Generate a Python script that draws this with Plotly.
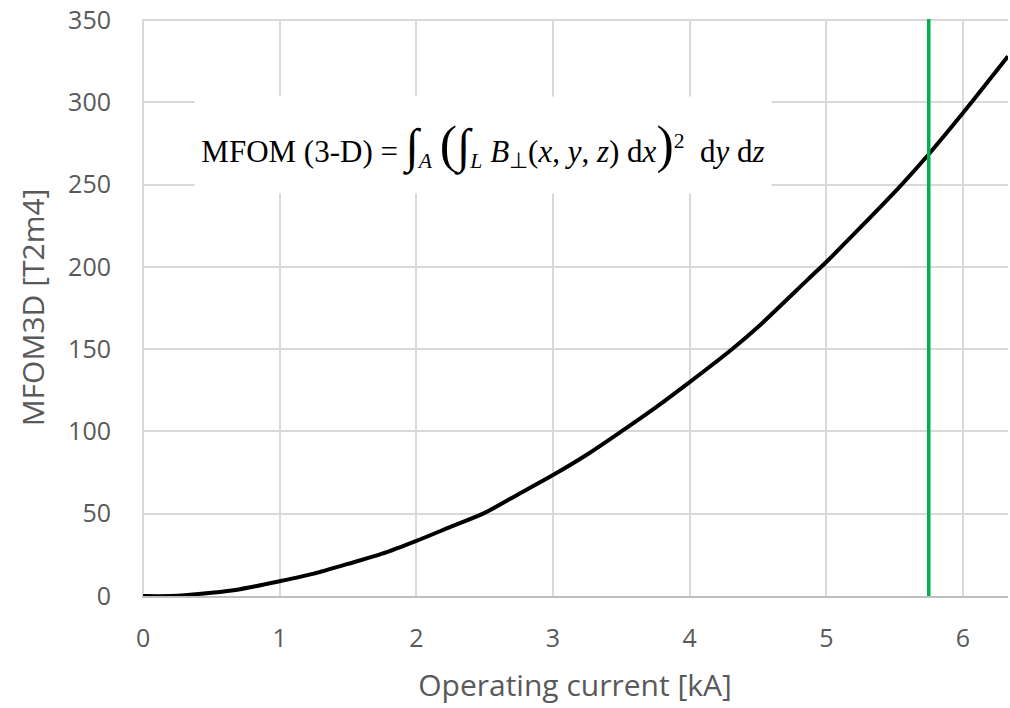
import plotly.graph_objects as go

# Operating current [kA] and MFOM3D [T2m4]
current_kA = [0.0, 0.2, 0.5, 0.7, 1.0, 1.25, 1.5, 1.75, 2.0, 2.25, 2.5, 2.75,
              3.0, 3.25, 3.5, 3.75, 4.0, 4.31, 4.5, 4.86, 5.0, 5.25, 5.54,
              5.75, 6.0, 6.33]
mfom3d = [0.0, 0.0, 2.0, 4.0, 9.0, 13.6, 19.5, 25.7, 33.5, 42.0, 50.5, 62.0,
          73.5, 86.0, 100.0, 114.5, 130.0, 150.0, 163.5, 192.0, 203.0, 224.0,
          249.0, 268.5, 293.5, 328.0]

# Operating point marker (vertical line)
op_current = [5.75, 5.75]
op_span = [0, 351]

x_ticks = [0, 1, 2, 3, 4, 5, 6]
y_ticks = [0, 50, 100, 150, 200, 250, 300, 350]

grey = "#595959"
grid = "#D9D9D9"

fig = go.Figure()
fig.add_trace(go.Scatter(x=current_kA, y=mfom3d, mode="lines",
                         line=dict(color="black", width=4, shape="spline",
                                   smoothing=0.8),
                         showlegend=False, hoverinfo="skip"))
fig.add_trace(go.Scatter(x=op_current, y=op_span, mode="lines",
                         line=dict(color="#00B050", width=3.5),
                         showlegend=False, hoverinfo="skip"))

formula = ("MFOM (3-D) = <span style='font-size:48px'>∫</span><sub><i>A</i></sub> "
           "<span style='font-size:52px'>(</span><span style='font-size:48px'>∫</span><sub><i>L</i></sub> "
           "<i>B</i><sub>⊥</sub>(<i>x</i>, <i>y</i>, <i>z</i>) d<i>x</i>"
           "<span style='font-size:52px'>)</span><sup>2</sup>  d<i>y</i> d<i>z</i>")

fig.add_annotation(x=2.49, y=274, xref="x", yref="y", text=formula,
                   showarrow=False, bgcolor="white", width=572, height=92,
                   borderpad=2,
                   font=dict(family="Liberation Serif", size=31, color="black"))

fig.update_layout(
    width=1010, height=708,
    margin=dict(l=142, r=2, t=19, b=112),
    paper_bgcolor="white", plot_bgcolor="white",
    font=dict(family="Open Sans", color=grey),
    xaxis=dict(range=[-0.008, 6.33], tickvals=x_ticks, showgrid=True,
               gridcolor=grid, gridwidth=1.5, zeroline=False,
               showline=True, linecolor="#BFBFBF", linewidth=1.5,
               tickfont=dict(size=25, color=grey), ticks="",
               ticklabelstandoff=19, automargin=False,
               ticklabeloverflow="allow",
               title=dict(text="Operating current [kA]",
                          font=dict(size=30, color=grey), standoff=22)),
    yaxis=dict(range=[0, 350.7], tickvals=y_ticks, showgrid=True,
               gridcolor=grid, gridwidth=1.5, zeroline=False,
               showline=False, automargin=False,
               ticklabeloverflow="allow",
               tickfont=dict(size=25, color=grey), ticks="",
               ticklabelstandoff=30,
               title=dict(text="MFOM3D [T2m4]",
                          font=dict(size=30, color=grey), standoff=14)),
)

fig.write_html("out.html", config={"displayModeBar": False},
               post_script="document.body.style.margin='0';"
                           "document.body.style.overflow='hidden';")
